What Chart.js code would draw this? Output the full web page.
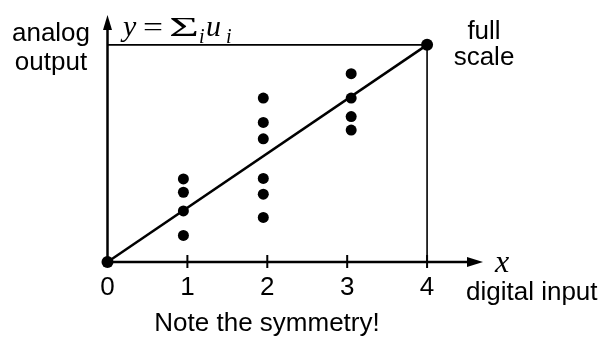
<!DOCTYPE html>
<html>
<head>
<meta charset="utf-8">
<script src="https://cdn.jsdelivr.net/npm/chart.js@4/dist/chart.umd.min.js"></script>
<style>
  html, body { margin: 0; padding: 0; background: #fff; }
  #wrap { width: 606px; height: 340px; position: relative; }
</style>
</head>
<body>
<div id="wrap"><canvas id="c" width="606" height="340"></canvas></div>
<script>
// Digital input codes along the x axis (tick labels)
const inputCodes = [0, 1, 2, 3, 4];
// Full-scale output: sum of all four unit elements
const fullScale = 4;
// Column positions of the possible outputs for codes 1, 2, 3
const columnX = [0.95, 1.95, 3.05];
// Possible analog outputs for each code (different unit-element choices)
const outputsCode1 = [1.53, 1.285, 0.94, 0.49];
const outputsCode2 = [3.02, 2.57, 2.27, 1.54, 1.25, 0.82];
const outputsCode3 = [3.47, 3.02, 2.68, 2.43];
// Axis extents (arrow tips)
const xAxisEnd = 4.7;
const yAxisEnd = 4.55;

const toPoints = (x, ys) => ys.map(y => ({ x, y }));

const SANS = '"Liberation Sans", Arial, Helvetica, sans-serif';
const SERIF = '"Liberation Serif", "Times New Roman", serif';

// Draw text at a fixed font size, stretched horizontally to the given width
function stretchText(ctx, text, font, x, y, width) {
  ctx.font = font;
  const w = ctx.measureText(text).width;
  ctx.save();
  ctx.translate(x, y);
  ctx.scale(width / w, 1);
  ctx.fillText(text, 0, 0);
  ctx.restore();
}

const axesPlugin = {
  id: 'axesAndText',
  afterDatasetsDraw(chart) {
    const { ctx, scales: { x, y } } = chart;
    const x0 = x.getPixelForValue(0), y0 = y.getPixelForValue(0);
    const xEnd = x.getPixelForValue(xAxisEnd), yEnd = y.getPixelForValue(yAxisEnd);
    ctx.save();
    ctx.strokeStyle = '#000';
    ctx.fillStyle = '#000';
    ctx.lineCap = 'butt';
    // x axis
    ctx.lineWidth = 2.5;
    ctx.beginPath(); ctx.moveTo(x0, y0); ctx.lineTo(xEnd - 10, y0); ctx.stroke();
    ctx.beginPath(); ctx.moveTo(xEnd, y0); ctx.lineTo(xEnd - 16, y0 - 5); ctx.lineTo(xEnd - 16, y0 + 5); ctx.closePath(); ctx.fill();
    // y axis
    ctx.beginPath(); ctx.moveTo(x0, y0); ctx.lineTo(x0, yEnd + 10); ctx.stroke();
    ctx.beginPath(); ctx.moveTo(x0, yEnd); ctx.lineTo(x0 - 4.5, yEnd + 15); ctx.lineTo(x0 + 4.5, yEnd + 15); ctx.closePath(); ctx.fill();
    // tick marks crossing the x axis
    ctx.lineWidth = 2;
    inputCodes.forEach(v => {
      if (v === 0) return;
      const px = x.getPixelForValue(v);
      ctx.beginPath(); ctx.moveTo(px, y0 - 7); ctx.lineTo(px, y0 + 6); ctx.stroke();
    });
    // tick labels
    ctx.font = '26px ' + SANS;
    ctx.textAlign = 'center';
    ctx.textBaseline = 'alphabetic';
    inputCodes.forEach(v => ctx.fillText(String(v), x.getPixelForValue(v), 295));
    // axis titles and notes
    ctx.fillText('analog', 51, 41);
    ctx.fillText('output', 51, 70);
    ctx.fillText('full', 484, 39);
    ctx.fillText('scale', 484, 65);
    ctx.fillText('Note the symmetry!', 267, 331);
    ctx.textAlign = 'left';
    ctx.fillText('digital input', 466, 300);
    // x axis symbol
    ctx.font = 'italic 32px ' + SERIF;
    ctx.fillText('x', 495, 272);
    // y = Σ_i u_i
    ctx.font = 'italic 30px ' + SERIF;
    ctx.fillText('y', 123, 36);
    stretchText(ctx, '=', '28px ' + SERIF, 143, 36, 20);
    stretchText(ctx, '\u03A3', '28px ' + SERIF, 169, 36, 30);
    ctx.font = 'italic 20px ' + SERIF;
    ctx.fillText('i', 199, 43);
    ctx.font = 'italic 30px ' + SERIF;
    ctx.fillText('u', 206, 36);
    ctx.font = 'italic 20px ' + SERIF;
    ctx.fillText('i', 226, 43);
    ctx.restore();
  }
};

const dotStyle = {
  showLine: false,
  pointRadius: 5.5,
  pointHoverRadius: 5.5,
  pointBackgroundColor: '#000',
  pointBorderColor: '#000',
  pointBorderWidth: 0,
  clip: false
};

new Chart(document.getElementById('c'), {
  type: 'scatter',
  data: {
    datasets: [
      { // full-scale level
        data: [{ x: 0, y: fullScale }, { x: inputCodes[4], y: fullScale }],
        showLine: true, borderColor: '#000', borderWidth: 1.6, pointRadius: 0, clip: false
      },
      { // full-scale code drop line
        data: [{ x: inputCodes[4], y: fullScale }, { x: inputCodes[4], y: 0 }],
        showLine: true, borderColor: '#000', borderWidth: 1.6, pointRadius: 0, clip: false
      },
      { // ideal transfer line
        data: [{ x: 0, y: 0 }, { x: inputCodes[4], y: fullScale }],
        showLine: true, borderColor: '#000', borderWidth: 2.5,
        pointRadius: 6, pointBackgroundColor: '#000', pointBorderWidth: 0, clip: false
      },
      Object.assign({ data: toPoints(columnX[0], outputsCode1) }, dotStyle),
      Object.assign({ data: toPoints(columnX[1], outputsCode2) }, dotStyle),
      Object.assign({ data: toPoints(columnX[2], outputsCode3) }, dotStyle)
    ]
  },
  options: {
    responsive: false,
    animation: false,
    layout: { padding: { left: 107.5, right: 123, top: 15, bottom: 78 } },
    plugins: { legend: { display: false }, tooltip: { enabled: false } },
    scales: {
      x: { type: 'linear', min: 0, max: xAxisEnd, display: false },
      y: { type: 'linear', min: 0, max: yAxisEnd, display: false }
    }
  },
  plugins: [axesPlugin]
});
</script>
</body>
</html>
